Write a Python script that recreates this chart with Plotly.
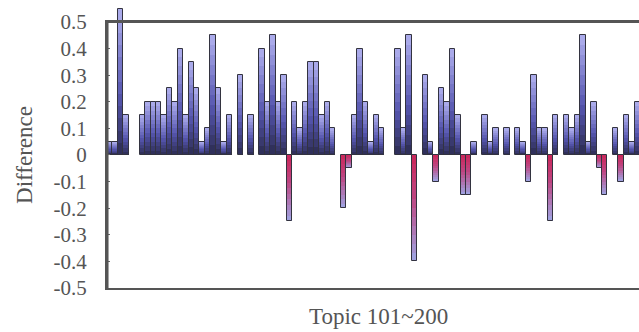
import plotly.graph_objects as go

# Topics 101..198 are visible in the reference (the last two are cropped off)
topics = list(range(101, 199))
differences = [
    0.05, 0.05, 0.55, 0.15, 0, 0, 0.15, 0.2, 0.2, 0.2,
    0.15, 0.25, 0.2, 0.4, 0.15, 0.35, 0.25, 0.05, 0.1, 0.45,
    0.25, 0.05, 0.15, 0, 0.3, 0, 0.15, 0, 0.4, 0.2,
    0.45, 0.2, 0.3, -0.25, 0.2, 0.1, 0.2, 0.35, 0.35, 0.15,
    0.2, 0.1, 0, -0.2, -0.05, 0.15, 0.4, 0.2, 0.05, 0.15,
    0.1, 0, 0, 0.4, 0.1, 0.45, -0.4, 0, 0.3, 0.05,
    -0.1, 0.25, 0.2, 0.4, 0.15, -0.15, -0.15, 0.05, 0, 0.15,
    0.05, 0.1, 0, 0.1, 0, 0.1, 0.05, -0.1, 0.3, 0.1,
    0.1, -0.25, 0.15, 0, 0.15, 0.1, 0.15, 0.45, 0.05, 0.2,
    -0.05, -0.15, 0, 0.1, -0.1, 0.15, 0.05, 0.2,
]
y_tick_vals = [-0.5, -0.4, -0.3, -0.2, -0.1, 0, 0.1, 0.2, 0.3, 0.4, 0.5]
y_tick_text = ["-0.5", "-0.4", "-0.3", "-0.2", "-0.1", "0", "0.1", "0.2", "0.3", "0.4", "0.5"]

FONT = "Liberation Serif"
TXT = "#555555"
FRAME = "#555555"

Y_MIN, Y_MAX, Y_TOP_ROOM = -0.5, 0.5, 0.06
X_MIN, X_MAX = 100.5, 198.3


def lerp(c1, c2, t):
    return tuple(a + (b - a) * t for a, b in zip(c1, c2))


def grad(stops, f):
    for (p0, c0), (p1, c1) in zip(stops, stops[1:]):
        if p0 <= f <= p1:
            c = lerp(c0, c1, (f - p0) / (p1 - p0) if p1 > p0 else 0)
            return "rgb(%d,%d,%d)" % tuple(round(v) for v in c)
    return "rgb(%d,%d,%d)" % stops[-1][1]


pos_stops = [(0.0, (40, 40, 72)), (0.45, (85, 85, 175)), (1.0, (170, 170, 234))]
neg_stops = [(0.0, (205, 35, 85)), (0.45, (190, 70, 130)), (1.0, (160, 160, 222))]

fig = go.Figure()
N = 12
for k in range(N, 0, -1):
    frac = k / N
    ys = [v * frac if v != 0 else None for v in differences]
    cols = [grad(pos_stops, frac) if v >= 0 else grad(neg_stops, frac) for v in differences]
    fig.add_trace(go.Bar(x=topics, y=ys, xaxis="x", yaxis="y",
                         marker=dict(color=cols, line=dict(width=0)),
                         showlegend=False, hoverinfo="skip"))

fig.add_trace(go.Bar(x=topics, y=[v if v != 0 else None for v in differences],
                     xaxis="x", yaxis="y",
                     marker=dict(color="rgba(0,0,0,0)", line=dict(color="#333340", width=1)),
                     showlegend=False))

# invisible trace that carries the framed axes (frame + y ticks)
fig.add_trace(go.Scatter(x=topics, y=differences, xaxis="x2", yaxis="y2", mode="markers",
                         marker=dict(opacity=0), showlegend=False, hoverinfo="skip"))

span = Y_MAX + Y_TOP_ROOM - Y_MIN
frame_frac = (Y_MAX - Y_MIN) / span
plot_h = 266 / frame_frac
top_margin = 288 - plot_h

# redundant frame drawn as paper shapes (left and top edges)
frame_shapes = [
    dict(type="line", xref="paper", yref="paper", x0=0.001, x1=0.001, y0=0, y1=frame_frac,
         line=dict(color=FRAME, width=2), layer="above"),
    dict(type="line", xref="paper", yref="paper", x0=0, x1=1, y0=frame_frac, y1=frame_frac,
         line=dict(color=FRAME, width=2), layer="above"),
]

fig.update_layout(
    template="none",
    width=639, height=332,
    margin=dict(l=107, r=0, t=top_margin, b=44, pad=0),
    barmode="overlay", bargap=0,
    plot_bgcolor="rgba(0,0,0,0)", paper_bgcolor="white",
    font=dict(family=FONT, color=TXT),
    shapes=frame_shapes,
    xaxis=dict(range=[X_MIN, X_MAX], anchor="y", visible=False, automargin=False),
    yaxis=dict(domain=[0, 1], range=[Y_MIN, Y_MAX + Y_TOP_ROOM], anchor="x",
               visible=False, automargin=False),
    xaxis2=dict(range=[X_MIN, X_MAX], anchor="y2", showticklabels=False, ticks="",
                showgrid=False, zeroline=False, showline=True, mirror="allticks",
                linecolor=FRAME, linewidth=2, automargin=False),
    yaxis2=dict(domain=[0, frame_frac], range=[Y_MIN, Y_MAX], anchor="x2",
                tickvals=y_tick_vals, ticktext=y_tick_text,
                ticks="inside", ticklen=3, tickcolor="#666666", showgrid=False, zeroline=False,
                showline=True, linecolor=FRAME, linewidth=2, automargin=False,
                tickfont=dict(family=FONT, size=21, color=TXT), ticklabelstandoff=14),
    annotations=[
        dict(text="Difference", xref="paper", yref="y", x=(25 - 107) / 532, y=0,
             textangle=-90, showarrow=False, font=dict(family=FONT, size=23, color=TXT),
             xanchor="center", yanchor="middle"),
        dict(text="Topic 101~200", xref="x", yref="paper", x=150.5, y=-28 / plot_h,
             showarrow=False, font=dict(family=FONT, size=23, color=TXT),
             xanchor="center", yanchor="middle"),
    ],
)

fig.write_html("out.html")
